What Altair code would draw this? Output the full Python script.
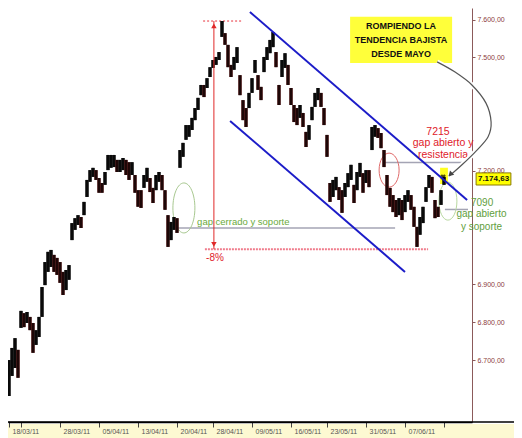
import altair as alt
import pandas as pd

# ---- price bars (one bar every 3 px of the reference), high / low ----
highs = [6700, 6732, 6758, 6727, 6830, 6824, 6827, 6814, 6798, 6779,
         6814, 6893, 6959, 6986, 6991, 6978, 6970, 6959, 6933, 6938,
         6951, 7062, 7075, 7083, 7078, 7118, 7176, 7202, 7208, 7202,
         7181, 7168, 7197, 7242, 7242, 7242, 7229, 7229, 7234, 7229,
         7223, 7223, 7189, 7149, 7149, 7189, 7208, 7181, 7155, 7189,
         7197, 7189, 7149, 7083, 7065, 7078, 7075, 7255, 7274, 7321,
         7321, 7340, 7366, 7393, 7427, 7427, 7445, 7474, 7493, 7501,
         7514, 7596, 7564, 7533, 7480, 7501, 7527, 7453, 7387, 7366,
         7406, 7445, 7493, 7453, 7422, 7501, 7527, 7546, 7567, 7514,
         7427, 7493, 7511, 7480, 7419, 7374, 7366, 7374, 7353, 7303,
         7321, 7369, 7406, 7419, 7406, 7366, 7295, 7168, 7176, 7184,
         7157, 7149, 7168, 7194, 7216, 7163, 7197, 7221, 7194, 7202,
         7202, 7316, 7321, 7313, 7300, 7255, 7189, 7155, 7136, 7123,
         7128, 7123, 7136, 7149, 7136, 7105, 7052, 7078, 7105, 7157,
         7189, 7184, 7123, 7105, 7149, 7184]
lows = [6605, 6658, 6679, 6653, 6785, 6787, 6798, 6779, 6719, 6740,
        6761, 6814, 6898, 6933, 6946, 6933, 6925, 6904, 6872, 6885,
        6912, 7017, 7044, 7057, 7049, 7083, 7131, 7171, 7184, 7176,
        7142, 7142, 7163, 7202, 7208, 7210, 7197, 7197, 7202, 7189,
        7176, 7189, 7142, 7105, 7102, 7155, 7171, 7144, 7115, 7149,
        7171, 7149, 7097, 6999, 7017, 7044, 7036, 7208, 7237, 7282,
        7290, 7308, 7334, 7361, 7400, 7395, 7419, 7448, 7472, 7480,
        7493, 7554, 7533, 7474, 7448, 7467, 7485, 7400, 7334, 7316,
        7366, 7406, 7459, 7414, 7387, 7461, 7493, 7511, 7527, 7474,
        7374, 7448, 7472, 7427, 7374, 7329, 7321, 7340, 7316, 7263,
        7282, 7334, 7369, 7387, 7369, 7321, 7237, 7118, 7131, 7149,
        7123, 7089, 7131, 7157, 7176, 7115, 7149, 7184, 7142, 7168,
        7157, 7255, 7290, 7287, 7260, 7210, 7136, 7105, 7091, 7078,
        7083, 7070, 7091, 7118, 7097, 7052, 6999, 7031, 7062, 7118,
        7155, 7142, 7075, 7078, 7110, 7163]
last_close = 7174.63

x_tick_values = [0, 4, 17, 30, 43, 56, 68, 81, 94, 106, 119, 132, 145]
x_tick_labels = ["18/03/11", "", "28/03/11", "05/04/11", "13/04/11", "20/04/11",
                 "28/04/11", "09/05/11", "16/05/11", "23/05/11", "31/05/11",
                 "07/06/11", ""]
y_tick_values = [6700, 6800, 6900, 7200, 7500, 7600]

# ---- annotation anchors (bar index, price) ----
channel_x = [80.3, 73.7]
channel_x2 = [152.7, 132.0]
channel_p = [7620, 7332]
channel_p2 = [7123, 6933]

peak_price = 7596
minus8_price = 6993
gray_x = [56.3, 125.3, 145.3]
gray_x2 = [128.7, 151.0, 153.0]
gray_p = [7049, 7222, 7098]

red_txt = ["7215", "gap abierto y", "resistencia"]
red_x = [143.0, 144.7, 144.7]
red_p = [7303, 7274, 7242]
green_txt = ["7090", "gap abierto", "y soporte"]
green_x = [157.7, 157.5, 157.5]
green_p = [7115, 7086, 7052]
callout_txt = ["ROMPIENDO LA", "TENDENCIA BAJISTA", "DESDE MAYO"]
callout_p = [7583, 7546, 7509]
curve_x = [142.7, 148.7, 154.3, 159.0, 160.7, 159.7, 156.0, 151.0, 146.7]
curve_p = [7488, 7461, 7427, 7379, 7329, 7290, 7255, 7216, 7186]

# ---------------------------------------------------------------
W, H = 464, 414
xs = alt.Scale(domain=[-0.333, 154.333], nice=False, zero=False)
ys = alt.Scale(domain=[6536.3, 7630.4], nice=False, zero=False)

lab_expr = "''"
for v, lab in reversed(list(zip(x_tick_values, x_tick_labels))):
    lab_expr = f"datum.value == {v} ? '{lab}' : ({lab_expr})"

xaxis = alt.Axis(orient="bottom", values=x_tick_values, labelExpr=lab_expr, title=None,
                 grid=False, domainColor="black", domainWidth=1.5, tickColor="#444",
                 tickSize=5, labelFontSize=7, labelColor="#555", labelAlign="left",
                 labelOffset=3, labelPadding=0, labelFlush=False, labelOverlap=False,
                 labelFont="Liberation Sans", zindex=1)
yaxis = alt.Axis(orient="right", values=y_tick_values, title=None, grid=False,
                 labelExpr="replace(replace(replace(format(datum.value, ',.2f'), ',', '#'), '.', ','), '#', '.')",
                 domainColor="#8b5a5a", tickColor="#8b5a5a", labelColor="#8b3c3c",
                 labelFontSize=7, tickSize=3, labelPadding=2, labelFont="Liberation Sans")


def X(f):
    return alt.X(f, type="quantitative", scale=xs, axis=xaxis)


def Y(f):
    return alt.Y(f, type="quantitative", scale=ys, axis=yaxis)


def ellipse_path(ratio):
    a, k = ratio, 0.5523
    return (f"M {a:.3f} 0 C {a:.3f} {k:.3f} {k*a:.3f} 1 0 1 "
            f"C {-k*a:.3f} 1 {-a:.3f} {k:.3f} {-a:.3f} 0 "
            f"C {-a:.3f} {-k:.3f} {-k*a:.3f} -1 0 -1 "
            f"C {k*a:.3f} -1 {a:.3f} {-k:.3f} {a:.3f} 0 Z")


one = pd.DataFrame({"a": [0]})
FONT = "Liberation Sans"

# candles
df = pd.DataFrame({"i": range(len(highs)), "hi": highs, "lo": lows})
mid = (df["hi"] + df["lo"]) / 2
df["dir"] = ["down" if k > 0 and mid[k] < mid[k - 1] else "up" for k in range(len(df))]

band = alt.Chart(one).mark_rect(color="#fdf9d2").encode(
    x=alt.value(0), x2=alt.value(506), y=alt.value(416), y2=alt.value(430))
base_line = alt.Chart(one).mark_rule(color="black", strokeWidth=1.5).encode(
    x=alt.value(0), x2=alt.value(506), y=alt.value(414))

gray = alt.Chart(pd.DataFrame({"x": gray_x, "x2": gray_x2, "p": gray_p})).mark_rule(
    color="#a4a4b4", strokeWidth=1.5).encode(x=X("x"), x2="x2", y=Y("p"))

top_dot = alt.Chart(pd.DataFrame({"x": [64.7], "x2": [78.0], "p": [peak_price]})).mark_rule(
    color="#e8303a", strokeWidth=1, strokeDash=[2, 2]).encode(x=X("x"), x2="x2", y=Y("p"))
bot_dot = alt.Chart(pd.DataFrame({"x": [65.3], "x2": [139.7], "p": [minus8_price]})).mark_rule(
    color="#f07c8c", strokeWidth=2, strokeDash=[2, 1]).encode(x=X("x"), x2="x2", y=Y("p"))


def ellipse(cx, cp, rx, ry, color):
    return alt.Chart(pd.DataFrame({"x": [cx], "p": [cp]})).mark_point(
        shape=ellipse_path(rx / ry), size=(2 * ry) ** 2, filled=False, color=color,
        strokeWidth=1, opacity=1).encode(x=X("x"), y=Y("p"))


ell1 = ellipse(58.3, 7102, 11, 25, "#a8c890")
ell2 = ellipse(126.7, 7202, 10, 17, "#e06a6a")
ell3 = ellipse(146.3, 7120, 9, 19, "#b8d8a0")

hl_box = alt.Chart(pd.DataFrame({"x": [143.7], "x2": [146.3], "p": [7165], "p2": [7208]})).mark_rect(
    color="#ffff20").encode(x=X("x"), x2="x2", y=Y("p"), y2="p2")

candles = alt.Chart(df).mark_rule(strokeWidth=3.6).encode(
    x=X("i"), y=Y("lo"), y2="hi",
    color=alt.Color("dir:N", scale=alt.Scale(domain=["up", "down"], range=["#141414", "#3c0e0e"]),
                    legend=None))
wicks = alt.Chart(df).mark_rule(strokeWidth=1, color="#000000").encode(
    x=X("i"), y=Y("lo"), y2="hi")

cross = alt.Chart(pd.DataFrame({"x": [144.7], "p": [7184]})).mark_point(
    shape="cross", angle=45, size=30, filled=True, color="black").encode(x=X("x"), y=Y("p"))

channel = alt.Chart(pd.DataFrame({"x": channel_x, "x2": channel_x2,
                                  "p": channel_p, "p2": channel_p2})).mark_rule(
    color="#1c1cc8", strokeWidth=2).encode(x=X("x"), x2="x2", y=Y("p"), y2="p2")

vline = alt.Chart(pd.DataFrame({"x": [68.3], "p": [peak_price], "p2": [minus8_price]})).mark_rule(
    color="#e02828", strokeWidth=1).encode(x=X("x"), y=Y("p"), y2="p2")
tri_up = alt.Chart(pd.DataFrame({"x": [68.3], "p": [7583]})).mark_point(
    shape="triangle-up", filled=True, size=30, color="#e02828", opacity=1).encode(x=X("x"), y=Y("p"))
tri_dn = alt.Chart(pd.DataFrame({"x": [68.3], "p": [7006]})).mark_point(
    shape="triangle-down", filled=True, size=30, color="#e02828", opacity=1).encode(x=X("x"), y=Y("p"))

red_text = alt.Chart(pd.DataFrame({"x": red_x, "p": red_p, "t": red_txt})).mark_text(
    color="#e0202a", fontSize=10.5, font=FONT, align="center", baseline="middle").encode(
    x=X("x"), y=Y("p"), text="t:N")
green_text = alt.Chart(pd.DataFrame({"x": green_x, "p": green_p, "t": green_txt})).mark_text(
    color="#5f9e3c", fontSize=10, font=FONT, align="center", baseline="middle").encode(
    x=X("x"), y=Y("p"), text="t:N")
gap_text = alt.Chart(pd.DataFrame({"x": [62.7], "p": [7065], "t": ["gap cerrado y soporte"]})).mark_text(
    color="#6aaa3c", fontSize=9.5, font=FONT, align="left", baseline="middle").encode(
    x=X("x"), y=Y("p"), text="t:N")
pct_text = alt.Chart(pd.DataFrame({"x": [65.7], "p": [6970], "t": ["-8%"]})).mark_text(
    color="#e0202a", fontSize=10, font=FONT, align="left", baseline="middle").encode(
    x=X("x"), y=Y("p"), text="t:N")

callout_box = alt.Chart(pd.DataFrame({"x": [113.7], "x2": [147.7], "p": [7485], "p2": [7607]})).mark_rect(
    color="#ffff3a").encode(x=X("x"), x2="x2", y=Y("p"), y2="p2")
callout_text = alt.Chart(pd.DataFrame({"x": [130.7] * 3, "p": callout_p, "t": callout_txt})).mark_text(
    color="#111111", fontSize=9, fontWeight="bold", font=FONT, align="center", baseline="middle").encode(
    x=X("x"), y=Y("p"), text="t:N")

curve_df = pd.DataFrame({"x": curve_x, "p": curve_p, "k": range(len(curve_x))})
curve_halo = alt.Chart(curve_df).mark_line(interpolate="cardinal", color="white", strokeWidth=5).encode(
    x=X("x"), y=Y("p"), order="k:Q")
curve = alt.Chart(curve_df).mark_line(interpolate="cardinal", color="#555555", strokeWidth=1.2).encode(
    x=X("x"), y=Y("p"), order="k:Q")
arrow_head = alt.Chart(pd.DataFrame({"x": [147.3], "p": [7192]})).mark_point(
    shape="triangle", angle=225, filled=True, size=35, color="#444444", opacity=1).encode(x=X("x"), y=Y("p"))

close_str = f"{last_close:,.2f}".replace(",", "#").replace(".", ",").replace("#", ".")
price_box = alt.Chart(pd.DataFrame({"x": [155.7], "x2": [167.3], "p": [last_close - 12], "p2": [last_close + 20]})).mark_rect(
    color="#ffff00", stroke="#8a7a00", strokeWidth=1).encode(x=X("x"), x2="x2", y=Y("p"), y2="p2")
price_text = alt.Chart(pd.DataFrame({"x": [161.5], "p": [last_close + 4], "t": [close_str]})).mark_text(
    color="#111111", fontSize=8, fontWeight="bold", font=FONT, align="center", baseline="middle").encode(
    x=X("x"), y=Y("p"), text="t:N")

chart = alt.layer(
    band, gray, top_dot, bot_dot, ell1, ell2, ell3, hl_box, candles, wicks, cross, channel,
    vline, tri_up, tri_dn, red_text, green_text, gap_text, pct_text,
    callout_box, callout_text, curve_halo, curve, arrow_head, price_box, price_text, base_line
).properties(
    width=W, height=H,
    autosize=alt.AutoSizeParams(type="none"),
    padding={"left": 0, "top": 0, "right": 42, "bottom": 16},
    background="white",
).configure_view(stroke=None)

chart.save("out.html", embed_options={"renderer": "svg", "actions": False})
